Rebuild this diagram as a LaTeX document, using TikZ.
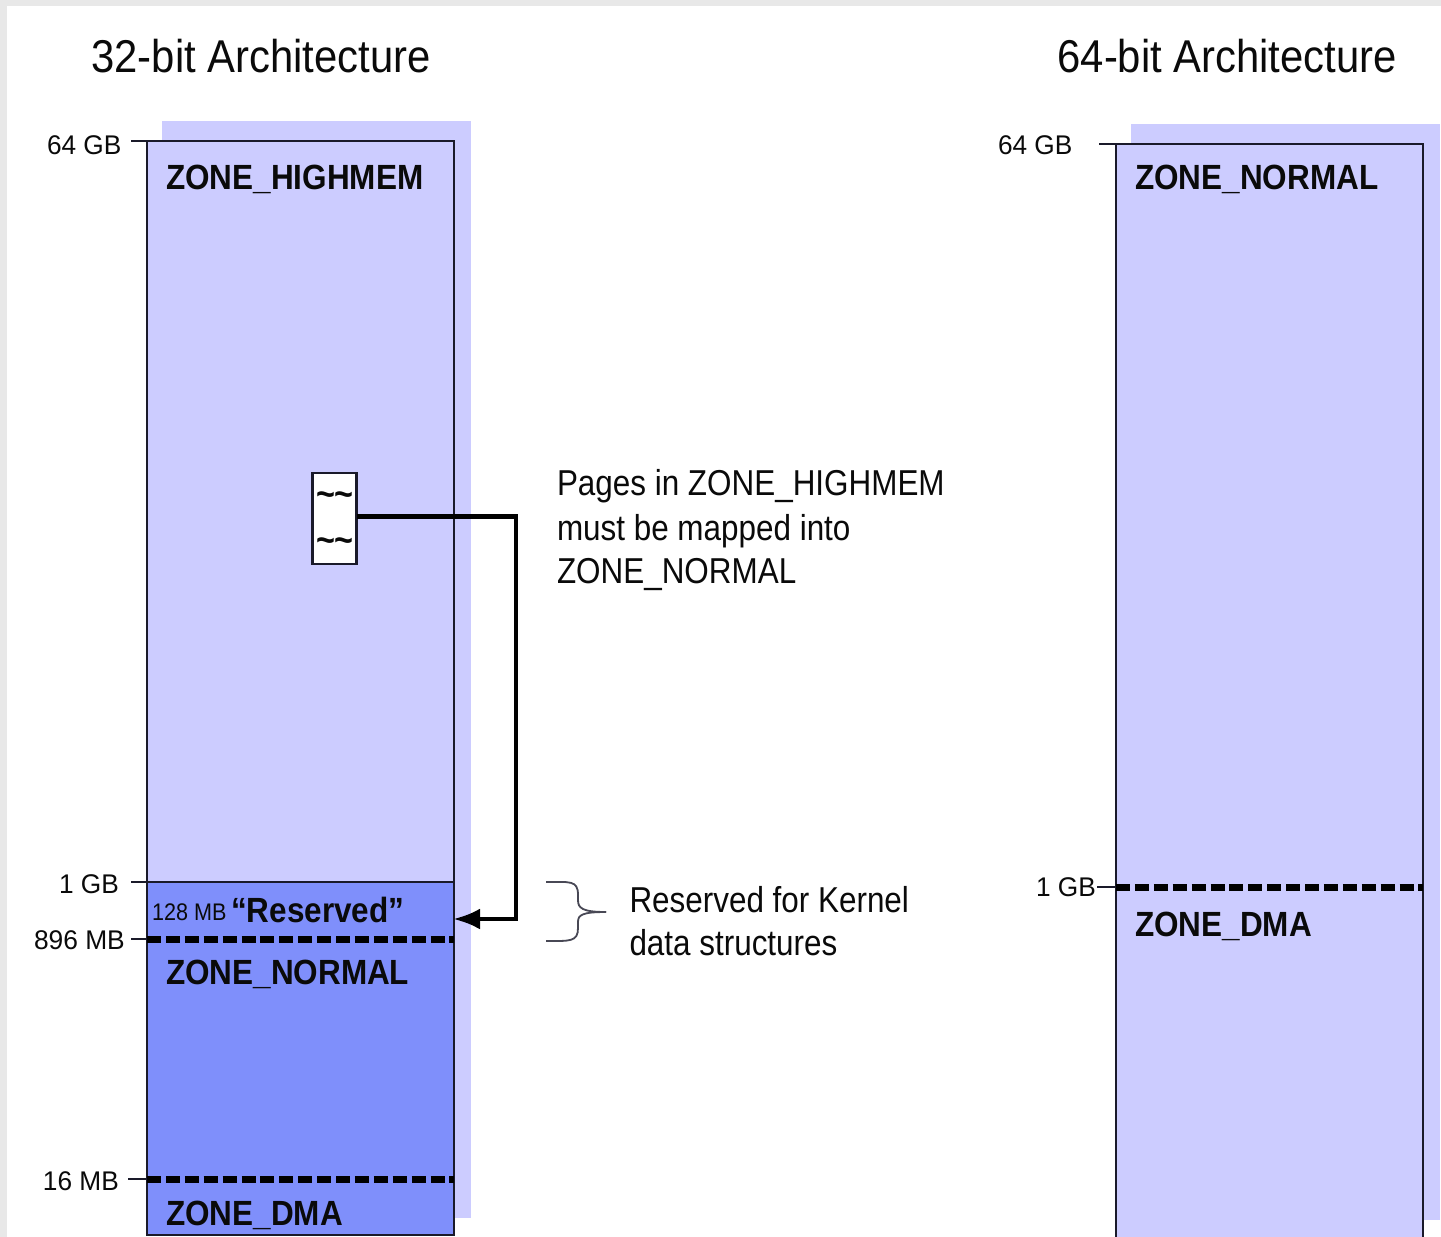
\documentclass[tikz,border=0pt]{standalone}
\usepackage{fontspec}
\setmainfont{Liberation Sans}
\usetikzlibrary{arrows.meta}
\definecolor{pale}{HTML}{CCCCFF}
\definecolor{mid}{HTML}{7F8FFB}
\definecolor{edge}{HTML}{1A1A2A}
\definecolor{ink}{HTML}{0A0A0A}
\newcommand{\fs}[1]{\fontsize{#1pt}{#1pt}\selectfont}
\tikzset{
  x=1pt,y=-1pt,
  txt/.style={anchor=base west,inner sep=0pt,outer sep=0pt,text=ink,transform shape,xscale=.9},
  title/.style={txt,xscale=1.01,font=\fs{46}},
  zone/.style={txt,font=\fs{35}\bfseries},
  note/.style={txt,xscale=.97,font=\fs{36}},
  size/.style={txt,xscale=1.08,font=\fs{27}},
  size long/.style={txt,xscale=1.085,font=\fs{27}},
  shadow/.style={fill=pale,draw=none},
  zonebox/.style={draw=edge,line width=2.8pt,anchor=north west,inner sep=0pt,outer sep=0pt},
  tick/.style={draw=edge,line width=2.8pt},
  dashline/.style={draw=black,line width=7pt,dash pattern=on 14pt off 4.9pt},
  link/.style={draw=black,line width=4.8pt},
}
\begin{document}
\begin{tikzpicture}
\useasboundingbox (0,0) rectangle (1441,1237);
\fill[black!9] (0,0) rectangle (1441,1237);
\fill[white] (7,6) rectangle (1441,1237);
% shadows
\fill[shadow] (162,121) rectangle (471,1218);
\fill[shadow] (1131,124) rectangle (1440,1220);
% left column
\node[zonebox,fill=pale,minimum width=307pt,minimum height=742pt] (high) at (147,141) {};
\node[zonebox,fill=mid,minimum width=307pt,minimum height=353pt] (low) at (147,882) {};
% right column
\path[fill=pale] (1116,144) rectangle (1423,1237);
\draw[edge,line width=2.8pt] (1116,1237) -- (1116,144) -- (1423,144) -- (1423,1237);
% tick coordinates
\coordinate (t64a) at (131,141);
\coordinate (t64aE) at (147,141);
\coordinate (t1a) at (131,882);
\coordinate (t1aE) at (147,882);
\coordinate (t896) at (131,939);
\coordinate (t896E) at (147,939);
\coordinate (t16) at (128,1179);
\coordinate (t16E) at (147,1179);
\coordinate (t64b) at (1099,144);
\coordinate (t64bE) at (1116,144);
\coordinate (t1b) at (1097,887);
\coordinate (t1bE) at (1116,887);
\draw[tick] (t64a) -- (t64aE);
\draw[tick] (t1a) -- (t1aE);
\draw[tick] (t896) -- (t896E);
\draw[tick] (t16) -- (t16E);
\draw[tick] (t64b) -- (t64bE);
\draw[tick] (t1b) -- (t1bE);
% dashed
\coordinate (d1) at (147,939); \coordinate (d1E) at (454,939);
\coordinate (d2) at (147,1179); \coordinate (d2E) at (454,1179);
\coordinate (d3) at (1116,887); \coordinate (d3E) at (1423,887);
\draw[dashline] (d1) -- (d1E);
\draw[dashline] (d2) -- (d2E);
\draw[dashline] (d3) -- (d3E);
% page
\node[draw=edge,line width=2.8pt,fill=white,anchor=north west,minimum width=44pt,minimum height=91pt,inner sep=0pt,outer sep=0pt] (page) at (312.5,473) {};
\node[txt,font=\fs{36}\bfseries] (w1) at (316,506) {\~{}\~{}};
\node[txt,font=\fs{36}\bfseries] (w2) at (316,552) {\~{}\~{}};
% link
\coordinate (lstart) at (page.east |- 0,516.5);
\coordinate (lbend) at (516,516.5);
\coordinate (lbend2) at (516,919);
\coordinate (lend) at (453,919);
\draw[link,-{Latex[length=27pt,width=21pt]}] (lstart) -- (lbend) -- (lbend2) -- (lend);
% brace
\coordinate (br0) at (546,882); \coordinate (br1) at (546,941); \coordinate (brtip) at (606,912);
\draw[edge!80,line width=1.8pt] (br0) .. controls (570,882) and (578,880) .. (578,895) -- (578,900) .. controls (578,908) and (582,912) .. (brtip);
\draw[edge!80,line width=1.8pt] (br1) .. controls (570,941) and (578,942) .. (578,928) -- (578,922) .. controls (578,915) and (582,912) .. (brtip);
% texts
\node[title] (t32) at (91.5,72) {32-bit Architecture};
\node[title] (t64) at (1057.5,72) {64-bit Architecture};
\node[size] (l64a) at (47,154) {64 GB};
\node[size] (l1a) at (59,893) {1 GB};
\node[size long] (l896) at (34,949.5) {896 MB};
\node[size] (l16) at (43,1190.5) {16 MB};
\node[size] (l64b) at (998,154) {64 GB};
\node[size] (l1b) at (1036,896) {1 GB};
\node[zone] (zh) at (166,189) {ZONE\_HIGHMEM};
\node[zone] (zn) at (166,984) {ZONE\_NORMAL};
\node[zone] (zd) at (166,1225) {ZONE\_DMA};
\node[zone] (zn2) at (1135,189) {ZONE\_NORMAL};
\node[zone] (zd2) at (1135,936) {ZONE\_DMA};
\node[txt,font=\fs{24}] (r1) at (152,920) {128 MB};
\node[zone] (r2) at (231,922) {“Reserved”};
\node[note] (n1) at (557,495) {Pages in ZONE\_HIGHMEM};
\node[note] (n2) at (557,540) {must be mapped into};
\node[note] (n3) at (557,583) {ZONE\_NORMAL};
\node[note] (n4) at (629.5,912.5) {Reserved for Kernel};
\node[note] (n5) at (629.5,955) {data structures};
\end{tikzpicture}
\end{document}
